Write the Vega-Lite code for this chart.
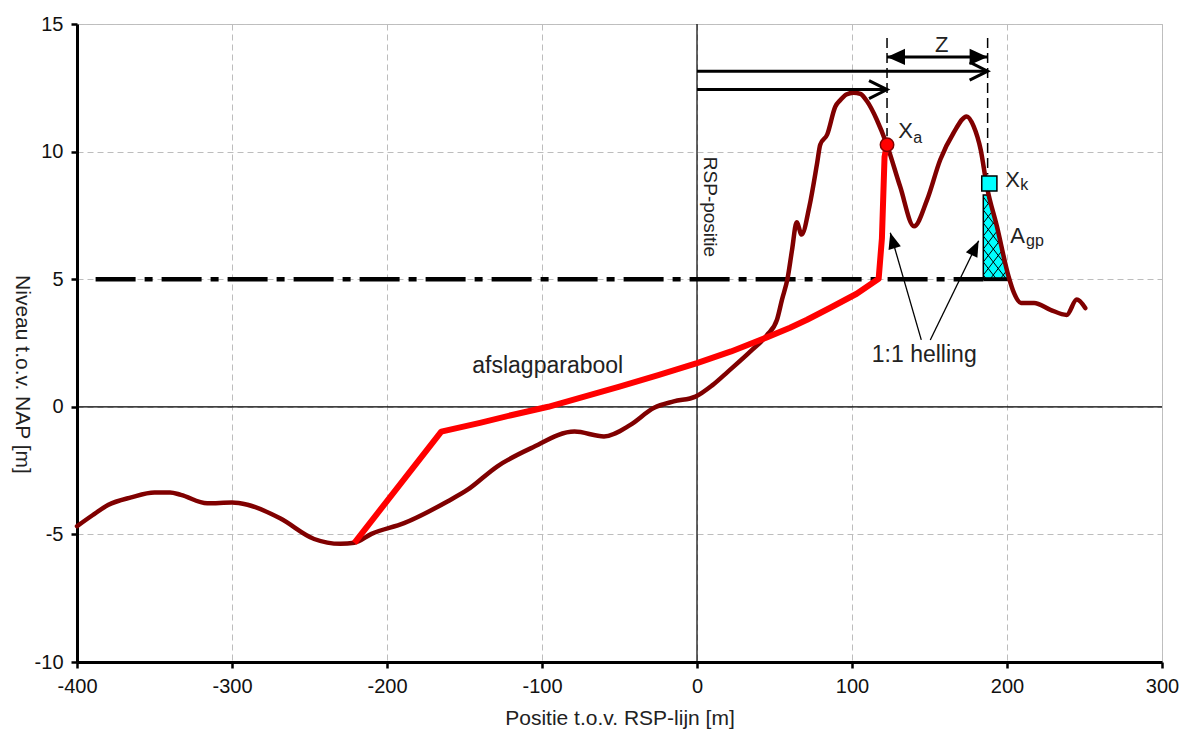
{
  "$schema": "https://vega.github.io/schema/vega-lite/v6.json",
  "width": 1085,
  "height": 638,
  "autosize": {"type": "none"},
  "padding": {"left": 77, "top": 24, "right": 28, "bottom": 78},
  "background": "white",
  "config": {
    "font": "Liberation Sans",
    "view": {"stroke": "#C0C0C0", "strokeWidth": 1},
    "axis": {
      "labelFont": "Liberation Sans",
      "titleFont": "Liberation Sans",
      "labelFontSize": 20,
      "titleFontSize": 21,
      "titleFontWeight": "normal",
      "labelColor": "#111111",
      "titleColor": "#222222",
      "domainColor": "#000000",
      "domainWidth": 3,
      "tickColor": "#000000",
      "tickWidth": 2.5,
      "tickSize": 6,
      "grid": true,
      "gridColor": "#BDBDBD",
      "gridDash": [6, 4],
      "gridWidth": 1,
      "labelFlush": false,
      "labelOverlap": false
    }
  },
  "datasets": {
    "profile": [
      {"x": -400, "y": -4.68}, {"x": -390, "y": -4.25}, {"x": -380, "y": -3.85}, {"x": -365, "y": -3.55},
      {"x": -350, "y": -3.36}, {"x": -340, "y": -3.36}, {"x": -333, "y": -3.45}, {"x": -316, "y": -3.78},
      {"x": -300, "y": -3.75}, {"x": -290, "y": -3.84}, {"x": -269, "y": -4.37}, {"x": -247, "y": -5.18},
      {"x": -230, "y": -5.37}, {"x": -221, "y": -5.33}, {"x": -210, "y": -4.98}, {"x": -189, "y": -4.56},
      {"x": -161, "y": -3.71}, {"x": -148, "y": -3.25}, {"x": -129, "y": -2.34}, {"x": -107, "y": -1.62},
      {"x": -79, "y": -0.97}, {"x": -60, "y": -1.16}, {"x": -43, "y": -0.71}, {"x": -28, "y": -0.05},
      {"x": -15, "y": 0.21}, {"x": -1, "y": 0.4}, {"x": 10, "y": 0.85}, {"x": 20, "y": 1.38},
      {"x": 35, "y": 2.2}, {"x": 45, "y": 2.8}, {"x": 51.6, "y": 3.41}, {"x": 54.8, "y": 4.19},
      {"x": 58.5, "y": 5.05}, {"x": 61.3, "y": 6.14}, {"x": 64.3, "y": 7.23}, {"x": 67.5, "y": 6.75},
      {"x": 72.5, "y": 7.85}, {"x": 77.5, "y": 9.55}, {"x": 79.5, "y": 10.27}, {"x": 84, "y": 10.67},
      {"x": 89.2, "y": 11.76}, {"x": 92.5, "y": 12.02}, {"x": 96.3, "y": 12.24}, {"x": 101, "y": 12.31},
      {"x": 105.4, "y": 12.26}, {"x": 109.7, "y": 11.97}, {"x": 116, "y": 11.25}, {"x": 122.5, "y": 10.27},
      {"x": 131, "y": 8.64}, {"x": 140, "y": 7.07}, {"x": 148.5, "y": 8.12}, {"x": 157, "y": 9.69},
      {"x": 165.5, "y": 10.73}, {"x": 174, "y": 11.38}, {"x": 178.5, "y": 10.99}, {"x": 183, "y": 10.08},
      {"x": 187, "y": 8.64}, {"x": 193.5, "y": 7.07}, {"x": 201, "y": 5.11}, {"x": 204.5, "y": 4.46},
      {"x": 209, "y": 4.07}, {"x": 217.5, "y": 4.07}, {"x": 228, "y": 3.8}, {"x": 238.5, "y": 3.6},
      {"x": 245, "y": 4.2}, {"x": 250.5, "y": 3.87}
    ],
    "erosion": [
      {"x": -221, "y": -5.33}, {"x": -165, "y": -0.97}, {"x": -140, "y": -0.63}, {"x": -120, "y": -0.33},
      {"x": -96, "y": 0.0}, {"x": -75, "y": 0.36}, {"x": -50, "y": 0.79}, {"x": -25, "y": 1.24},
      {"x": 0, "y": 1.71}, {"x": 22, "y": 2.17}, {"x": 45, "y": 2.72}, {"x": 60, "y": 3.1},
      {"x": 71, "y": 3.41}, {"x": 86, "y": 3.88}, {"x": 103, "y": 4.43}, {"x": 117.2, "y": 5.02},
      {"x": 119.3, "y": 6.6}, {"x": 121, "y": 9.8}, {"x": 122.5, "y": 10.27}
    ],
    "zeroV": [{"x": 0, "y": -10, "y2": 15}],
    "zeroH": [{"x": -400, "x2": 300, "y": 0}],
    "level": [{"x": -388, "y": 5}, {"x": 184.7, "y": 5}],
    "agp": [{"x": 184.7, "y": 8.3}, {"x": 187.3, "y": 8.3}, {"x": 194, "y": 6.95}, {"x": 201.3, "y": 5.0}],
    "agpBase": [{"x": 184.7, "x2": 201.3, "y": 5}],
    "hatch": [
      {"x": 184.71, "y": 8.221, "x2": 188.58, "y2": 7.915},
      {"x": 184.71, "y": 7.712, "x2": 191.81, "y2": 7.151},
      {"x": 184.71, "y": 7.202, "x2": 195.03, "y2": 6.387},
      {"x": 184.71, "y": 6.693, "x2": 198.26, "y2": 5.623},
      {"x": 184.71, "y": 6.183, "x2": 199.55, "y2": 5.008},
      {"x": 184.71, "y": 5.674, "x2": 193.10, "y2": 5.008},
      {"x": 184.71, "y": 5.165, "x2": 186.65, "y2": 5.008},
      {"x": 184.71, "y": 7.712, "x2": 188.26, "y2": 7.990},
      {"x": 184.71, "y": 7.202, "x2": 189.87, "y2": 7.610},
      {"x": 184.71, "y": 6.693, "x2": 191.48, "y2": 7.226},
      {"x": 184.71, "y": 6.183, "x2": 193.10, "y2": 6.846},
      {"x": 184.71, "y": 5.674, "x2": 194.71, "y2": 6.462},
      {"x": 184.71, "y": 5.165, "x2": 196.32, "y2": 6.082},
      {"x": 189.16, "y": 5.008, "x2": 197.94, "y2": 5.701},
      {"x": 195.61, "y": 5.008, "x2": 199.55, "y2": 5.317}
    ],
    "vlines": [{"x": 122.6, "y": 14.45, "y2": 10.6}, {"x": 187.5, "y": 14.45, "y2": 9.1}],
    "harrows": [
      {"x": 0, "x2": 187.5, "y": 13.15},
      {"x": 0, "x2": 122.6, "y": 12.43},
      {"x": 122.6, "x2": 187.5, "y": 13.71}
    ],
    "chevrons": [{"x": 187.5, "y": 13.15}, {"x": 122.6, "y": 12.43}],
    "zRight": [{"x": 187.5, "y": 13.71}],
    "zLeft": [{"x": 122.6, "y": 13.71}],
    "slopeLines": [
      {"x": 144.7, "y": 2.62, "x2": 124.7, "y2": 6.82},
      {"x": 150.5, "y": 2.62, "x2": 181.7, "y2": 6.51}
    ],
    "head1": [{"x": 124.7, "y": 6.82}],
    "head2": [{"x": 181.7, "y": 6.51}],
    "xa": [{"x": 122.6, "y": 10.27}],
    "xk": [{"x": 188.6, "y": 8.75}],
    "bigLabels": [
      {"x": 129.9, "y": 10.53, "t": "X"},
      {"x": 198.9, "y": 8.61, "t": "X"},
      {"x": 202.1, "y": 6.42, "t": "A"}
    ],
    "subLabels": [
      {"x": 139.5, "y": 10.34, "t": "a"},
      {"x": 208.6, "y": 8.49, "t": "k"},
      {"x": 212.3, "y": 6.3, "t": "gp"}
    ],
    "centerLabels": [
      {"x": -96.3, "y": 1.31, "t": "afslagparabool"},
      {"x": 146.6, "y": 1.76, "t": "1:1 helling"}
    ],
    "zLabel": [{"x": 157.9, "y": 13.9, "t": "Z"}],
    "rspLabel": [{"x": 8.6, "y": 7.83, "t": "RSP-positie"}]
  },
  "encoding": {
    "x": {
      "field": "x",
      "type": "quantitative",
      "scale": {"domain": [-400, 300], "nice": false, "zero": false},
      "axis": {
        "values": [-400, -300, -200, -100, 0, 100, 200, 300],
        "labelExpr": "'' + datum.value",
        "title": "Positie t.o.v. RSP-lijn [m]",
        "labelPadding": 8,
        "titleX": 542.5,
        "titleY": 56,
        "titleAlign": "center",
        "titleBaseline": "middle"
      }
    },
    "y": {
      "field": "y",
      "type": "quantitative",
      "scale": {"domain": [-10, 15], "nice": false, "zero": false},
      "axis": {
        "values": [-10, -5, 0, 5, 10, 15],
        "labelExpr": "'' + datum.value",
        "title": "Niveau t.o.v. NAP [m]",
        "labelPadding": 8,
        "titleAngle": 90,
        "titleX": -56,
        "titleY": 350,
        "titleAlign": "center",
        "titleBaseline": "middle"
      }
    }
  },
  "layer": [
    {"data": {"name": "zeroV"}, "mark": {"type": "rule", "color": "#000000", "strokeWidth": 1.2}, "encoding": {"y2": {"field": "y2"}}},
    {"data": {"name": "zeroH"}, "mark": {"type": "rule", "color": "#000000", "strokeWidth": 1.2}, "encoding": {"x2": {"field": "x2"}}},
    {"data": {"name": "level"}, "mark": {"type": "line", "color": "#000000", "strokeWidth": 4.5, "strokeDash": [40, 9, 8, 9]}, "encoding": {}},
    {"data": {"name": "agp"}, "mark": {"type": "area", "color": "#00FFFF", "fillOpacity": 1, "stroke": "#000000", "strokeWidth": 1.5}, "encoding": {"y2": {"datum": 5}}},
    {"data": {"name": "hatch"}, "mark": {"type": "rule", "color": "#000000", "strokeWidth": 1}, "encoding": {"x2": {"field": "x2"}, "y2": {"field": "y2"}}},
    {"data": {"name": "agpBase"}, "mark": {"type": "rule", "color": "#000000", "strokeWidth": 4}, "encoding": {"x2": {"field": "x2"}}},
    {"data": {"name": "profile"}, "mark": {"type": "line", "color": "#800000", "strokeWidth": 4.5, "interpolate": "monotone", "strokeJoin": "round", "strokeCap": "round"}, "encoding": {}},
    {"data": {"name": "erosion"}, "mark": {"type": "line", "color": "#FF0000", "strokeWidth": 6, "strokeJoin": "round"}, "encoding": {}},
    {"data": {"name": "vlines"}, "mark": {"type": "rule", "color": "#000000", "strokeWidth": 1.5, "strokeDash": [10, 5]}, "encoding": {"y2": {"field": "y2"}}},
    {"data": {"name": "harrows"}, "mark": {"type": "rule", "color": "#000000", "strokeWidth": 3}, "encoding": {"x2": {"field": "x2"}}},
    {"data": {"name": "chevrons"}, "mark": {"type": "point", "shape": "M-2,-1L0,0L-2,1", "filled": false, "stroke": "#000000", "strokeWidth": 3, "size": 324, "opacity": 1}, "encoding": {}},
    {"data": {"name": "zRight"}, "mark": {"type": "point", "shape": "M0,0L-2,-0.9L-2,0.9Z", "filled": true, "color": "#000000", "size": 324, "opacity": 1}, "encoding": {}},
    {"data": {"name": "zLeft"}, "mark": {"type": "point", "shape": "M0,0L2,-0.9L2,0.9Z", "filled": true, "color": "#000000", "size": 324, "opacity": 1}, "encoding": {}},
    {"data": {"name": "slopeLines"}, "mark": {"type": "rule", "color": "#000000", "strokeWidth": 1.3}, "encoding": {"x2": {"field": "x2"}, "y2": {"field": "y2"}}},
    {"data": {"name": "head1"}, "mark": {"type": "point", "shape": "M0,0L-0.8,2L0.8,2Z", "filled": true, "color": "#000000", "size": 256, "angle": 344, "opacity": 1}, "encoding": {}},
    {"data": {"name": "head2"}, "mark": {"type": "point", "shape": "M0,0L-0.8,2L0.8,2Z", "filled": true, "color": "#000000", "size": 256, "angle": 26, "opacity": 1}, "encoding": {}},
    {"data": {"name": "xa"}, "mark": {"type": "point", "shape": "circle", "filled": true, "fill": "#FF0000", "stroke": "#800000", "strokeWidth": 1.5, "size": 180, "opacity": 1}, "encoding": {}},
    {"data": {"name": "xk"}, "mark": {"type": "point", "shape": "square", "filled": true, "fill": "#00FFFF", "stroke": "#000000", "strokeWidth": 1.5, "size": 230, "opacity": 1}, "encoding": {}},
    {"data": {"name": "bigLabels"}, "mark": {"type": "text", "fontSize": 22, "align": "left", "baseline": "alphabetic", "color": "#222222"}, "encoding": {"text": {"field": "t"}}},
    {"data": {"name": "subLabels"}, "mark": {"type": "text", "fontSize": 16, "align": "left", "baseline": "alphabetic", "color": "#222222"}, "encoding": {"text": {"field": "t"}}},
    {"data": {"name": "centerLabels"}, "mark": {"type": "text", "fontSize": 23, "align": "center", "baseline": "alphabetic", "color": "#222222"}, "encoding": {"text": {"field": "t"}}},
    {"data": {"name": "zLabel"}, "mark": {"type": "text", "fontSize": 22, "align": "center", "baseline": "alphabetic", "color": "#222222"}, "encoding": {"text": {"field": "t"}}},
    {"data": {"name": "rspLabel"}, "mark": {"type": "text", "fontSize": 19, "align": "center", "baseline": "middle", "angle": 90, "color": "#222222"}, "encoding": {"text": {"field": "t"}}}
  ]
}
